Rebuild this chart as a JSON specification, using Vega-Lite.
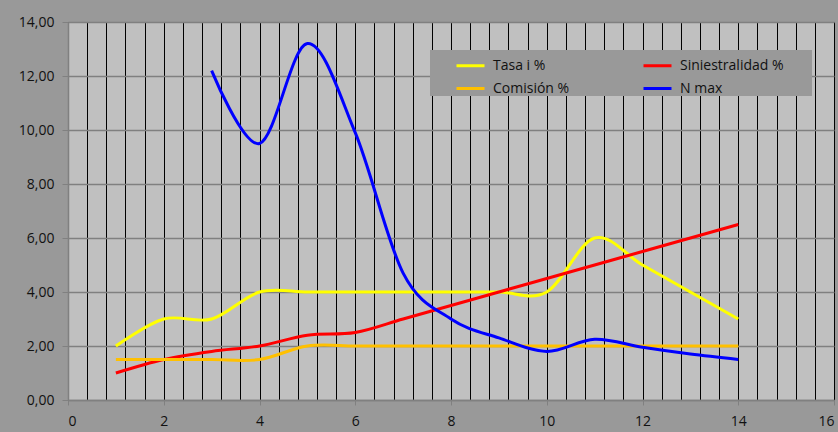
{
  "$schema": "https://vega.github.io/schema/vega-lite/v6.json",
  "width": 766,
  "height": 378,
  "autosize": {"type": "none"},
  "padding": {"left": 68, "top": 22, "right": 4, "bottom": 32},
  "background": "#999999",
  "config": {
    "view": {"fill": "#C0C0C0", "stroke": null},
    "font": "Open Sans"
  },
  "data": {
    "values": [
      {"x": 1, "serie": "Tasa i %", "v": 2.0},
      {"x": 2, "serie": "Tasa i %", "v": 3.0},
      {"x": 3, "serie": "Tasa i %", "v": 3.0},
      {"x": 4, "serie": "Tasa i %", "v": 4.0},
      {"x": 5, "serie": "Tasa i %", "v": 4.0},
      {"x": 6, "serie": "Tasa i %", "v": 4.0},
      {"x": 7, "serie": "Tasa i %", "v": 4.0},
      {"x": 8, "serie": "Tasa i %", "v": 4.0},
      {"x": 9, "serie": "Tasa i %", "v": 4.0},
      {"x": 10, "serie": "Tasa i %", "v": 4.0},
      {"x": 11, "serie": "Tasa i %", "v": 6.0},
      {"x": 12, "serie": "Tasa i %", "v": 5.0},
      {"x": 13, "serie": "Tasa i %", "v": 4.0},
      {"x": 14, "serie": "Tasa i %", "v": 3.0},

      {"x": 1, "serie": "Siniestralidad %", "v": 1.0},
      {"x": 2, "serie": "Siniestralidad %", "v": 1.5},
      {"x": 3, "serie": "Siniestralidad %", "v": 1.8},
      {"x": 4, "serie": "Siniestralidad %", "v": 2.0},
      {"x": 5, "serie": "Siniestralidad %", "v": 2.4},
      {"x": 6, "serie": "Siniestralidad %", "v": 2.5},
      {"x": 7, "serie": "Siniestralidad %", "v": 3.0},
      {"x": 8, "serie": "Siniestralidad %", "v": 3.5},
      {"x": 9, "serie": "Siniestralidad %", "v": 4.0},
      {"x": 10, "serie": "Siniestralidad %", "v": 4.5},
      {"x": 11, "serie": "Siniestralidad %", "v": 5.0},
      {"x": 12, "serie": "Siniestralidad %", "v": 5.5},
      {"x": 13, "serie": "Siniestralidad %", "v": 6.0},
      {"x": 14, "serie": "Siniestralidad %", "v": 6.5},

      {"x": 1, "serie": "Comisión %", "v": 1.5},
      {"x": 2, "serie": "Comisión %", "v": 1.5},
      {"x": 3, "serie": "Comisión %", "v": 1.5},
      {"x": 4, "serie": "Comisión %", "v": 1.5},
      {"x": 5, "serie": "Comisión %", "v": 2.0},
      {"x": 6, "serie": "Comisión %", "v": 2.0},
      {"x": 7, "serie": "Comisión %", "v": 2.0},
      {"x": 8, "serie": "Comisión %", "v": 2.0},
      {"x": 9, "serie": "Comisión %", "v": 2.0},
      {"x": 10, "serie": "Comisión %", "v": 2.0},
      {"x": 11, "serie": "Comisión %", "v": 2.0},
      {"x": 12, "serie": "Comisión %", "v": 2.0},
      {"x": 13, "serie": "Comisión %", "v": 2.0},
      {"x": 14, "serie": "Comisión %", "v": 2.0},

      {"x": 3, "serie": "N max", "v": 12.2},
      {"x": 4, "serie": "N max", "v": 9.5},
      {"x": 5, "serie": "N max", "v": 13.2},
      {"x": 6, "serie": "N max", "v": 9.9},
      {"x": 7, "serie": "N max", "v": 4.7},
      {"x": 8, "serie": "N max", "v": 3.0},
      {"x": 9, "serie": "N max", "v": 2.3},
      {"x": 10, "serie": "N max", "v": 1.8},
      {"x": 11, "serie": "N max", "v": 2.25},
      {"x": 12, "serie": "N max", "v": 1.95},
      {"x": 13, "serie": "N max", "v": 1.7},
      {"x": 14, "serie": "N max", "v": 1.5}
    ]
  },
  "mark": {"type": "line", "interpolate": "cardinal", "strokeWidth": 3},
  "encoding": {
    "x": {
      "field": "x",
      "type": "quantitative",
      "scale": {"domain": [0, 16], "nice": false, "zero": false},
      "axis": {
        "title": null,
        "values": [0, 0.4, 0.8, 1.2, 1.6, 2, 2.4, 2.8, 3.2, 3.6, 4, 4.4, 4.8, 5.2, 5.6, 6, 6.4, 6.8, 7.2, 7.6, 8, 8.4, 8.8, 9.2, 9.6, 10, 10.4, 10.8, 11.2, 11.6, 12, 12.4, 12.8, 13.2, 13.6, 14, 14.4, 14.8, 15.2, 15.6, 16],
        "grid": true,
        "gridColor": "#000000",
        "gridOpacity": 1,
        "gridWidth": 1,
        "domainColor": "#808080",
        "domainWidth": 1.5,
        "tickColor": "#808080",
        "tickSize": 5,
        "tickOpacity": {"condition": {"test": "abs(datum.value / 2 - round(datum.value / 2)) < 0.001", "value": 1}, "value": 0},
        "labelExpr": "abs(datum.value / 2 - round(datum.value / 2)) < 0.001 ? format(datum.value, 'd') : ''",
        "labelOverlap": false,
        "labelFontSize": 14,
        "labelColor": "#111111",
        "labelPadding": 9
      }
    },
    "y": {
      "field": "v",
      "type": "quantitative",
      "scale": {"domain": [0, 14], "nice": false},
      "axis": {
        "title": null,
        "values": [0, 2, 4, 6, 8, 10, 12, 14],
        "grid": true,
        "gridColor": "#808080",
        "gridOpacity": 1,
        "gridWidth": 1.5,
        "domainColor": "#808080",
        "domainWidth": 1.5,
        "tickColor": "#808080",
        "tickSize": 6,
        "labelExpr": "replace(format(datum.value, '.2f'), '.', ',')",
        "labelFontSize": 14,
        "labelColor": "#111111",
        "labelPadding": 8
      }
    },
    "color": {
      "field": "serie",
      "type": "nominal",
      "sort": ["Tasa i %", "Comisión %", "Siniestralidad %", "N max"],
      "scale": {
        "domain": ["Tasa i %", "Comisión %", "Siniestralidad %", "N max"],
        "range": ["#FFFF00", "#FFC000", "#FF0000", "#0000FF"]
      },
      "legend": {
        "title": " ",
        "titleOrient": "right",
        "titlePadding": 28,
        "orient": "none",
        "legendX": 362,
        "legendY": 28,
        "columns": 2,
        "symbolType": "stroke",
        "symbolSize": 784,
        "symbolStrokeWidth": 3,
        "labelFontSize": 14,
        "labelColor": "#111111",
        "labelOffset": 7,
        "fillColor": "#999999",
        "padding": 0,
        "symbolOffset": 25,
        "columnPadding": 47,
        "rowPadding": -5
      }
    }
  }
}
